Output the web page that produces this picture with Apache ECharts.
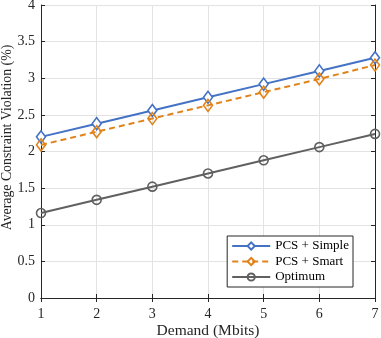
<!DOCTYPE html>
<html><head><meta charset="utf-8">
<script src="https://cdn.jsdelivr.net/npm/echarts@6/dist/echarts.min.js"></script>
<style>html,body{margin:0;padding:0;background:#fff}#c{width:381px;height:338px}</style>
</head><body><div id="c"></div>
<script>
const categories = [1, 2, 3, 4, 5, 6, 7];
const pcsSimple = [2.20, 2.38, 2.56, 2.74, 2.92, 3.10, 3.28];
const pcsSmart = [2.09, 2.27, 2.45, 2.63, 2.81, 2.99, 3.18];
const optimum = [1.16, 1.34, 1.52, 1.70, 1.88, 2.06, 2.24];
const seriesNames = ['PCS + Simple', 'PCS + Smart', 'Optimum'];

const font = 'Liberation Serif';
const chart = echarts.init(document.getElementById('c'), null, {renderer: 'canvas'});
const pair = a => a.map((v, i) => [categories[i], v]);
const axisLine = {show: true, lineStyle: {color: '#262626', width: 1}};
chart.setOption({
  animation: false,
  grid: {left: 41, right: 6, top: 5, bottom: 40, containLabel: false, outerBoundsMode: 'none'},
  xAxis: [{
    type: 'value', min: 1, max: 7, interval: 1,
    name: 'Demand (Mbits)', nameLocation: 'middle', nameGap: 25, nameMoveOverlap: false,
    nameTextStyle: {fontFamily: font, fontSize: 15.5, color: '#262626'},
    axisLine, axisTick: {show: true, inside: true, length: 4, lineStyle: {color: '#262626'}},
    axisLabel: {fontFamily: font, fontSize: 14, color: '#262626', margin: 9},
    splitLine: {show: true, lineStyle: {color: '#e3e3e3', width: 1}}
  }, {
    type: 'value', min: 1, max: 7, interval: 1, position: 'top',
    axisLine, axisTick: {show: true, inside: true, length: 4, lineStyle: {color: '#262626'}},
    axisLabel: {show: false}, splitLine: {show: false}
  }],
  yAxis: [{
    type: 'value', min: 0, max: 4, interval: 0.5,
    name: 'Average Constraint Violation (%)', nameLocation: 'middle', nameGap: 27, nameMoveOverlap: false,
    nameTextStyle: {fontFamily: font, fontSize: 13.8, color: '#262626', padding: [0, 0, 0, 28]},
    axisLine, axisTick: {show: true, inside: true, length: 4, lineStyle: {color: '#262626'}},
    axisLabel: {fontFamily: font, fontSize: 14, color: '#262626', margin: 6},
    splitLine: {show: true, lineStyle: {color: '#e3e3e3', width: 1}}
  }, {
    type: 'value', min: 0, max: 4, interval: 0.5, position: 'right',
    axisLine, axisTick: {show: true, inside: true, length: 4, lineStyle: {color: '#262626'}},
    axisLabel: {show: false}, splitLine: {show: false}
  }],
  legend: {
    orient: 'vertical', right: 28, bottom: 51,
    backgroundColor: '#fff', borderColor: '#262626', borderWidth: 1, borderRadius: 0,
    padding: [3, 4, 3, 4], itemGap: 1.5, itemWidth: 38, itemHeight: 9,
    textStyle: {fontFamily: font, fontSize: 13, color: '#000', lineHeight: 14},
    data: seriesNames
  },
  series: [
    {name: seriesNames[0], type: 'line', data: pair(pcsSimple), symbol: 'diamond', symbolSize: [9, 12],
     lineStyle: {color: '#4472C4', width: 2}, itemStyle: {color: '#fff', borderColor: '#4472C4', borderWidth: 1.6}, color: '#4472C4'},
    {name: seriesNames[1], type: 'line', data: pair(pcsSmart), symbol: 'diamond', symbolSize: [9, 12],
     lineStyle: {color: '#E0831A', width: 2, type: [6, 4]}, itemStyle: {color: 'rgba(255,255,255,0)', borderColor: '#E0831A', borderWidth: 1.6}, color: '#E0831A'},
    {name: seriesNames[2], type: 'line', data: pair(optimum), symbol: 'circle', symbolSize: 9,
     lineStyle: {color: '#606060', width: 2}, itemStyle: {color: 'rgba(255,255,255,0)', borderColor: '#606060', borderWidth: 1.6}, color: '#606060'}
  ]
});
</script></body></html>
